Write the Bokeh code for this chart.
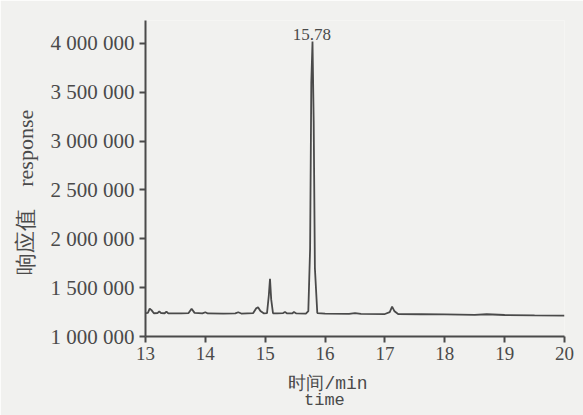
import math
from bokeh.plotting import figure
from bokeh.models import FixedTicker, LinearAxis, Range1d
from bokeh.embed import file_html
from bokeh.resources import INLINE

# retention time (min) and detector response
time = [13.00, 13.04, 13.07, 13.10, 13.14, 13.20, 13.23, 13.26, 13.32, 13.35, 13.38,
        13.60, 13.72, 13.77, 13.82, 13.95, 14.00, 14.04, 14.30, 14.50, 14.55, 14.60,
        14.80, 14.85, 14.88, 14.92, 14.98, 15.03, 15.06, 15.08, 15.10, 15.13, 15.20,
        15.30, 15.33, 15.36, 15.45, 15.48, 15.52, 15.68, 15.72, 15.75, 15.77, 15.79,
        15.81, 15.83, 15.87, 16.00, 16.40, 16.50, 16.60, 17.00, 17.08, 17.12, 17.16,
        17.22, 17.60, 18.00, 18.50, 18.70, 19.00, 19.50, 20.00]
response = [1240000, 1242000, 1285000, 1270000, 1238000, 1240000, 1258000, 1240000,
            1238000, 1255000, 1237000, 1236000, 1240000, 1285000, 1242000, 1236000,
            1248000, 1236000, 1235000, 1236000, 1248000, 1235000, 1240000, 1290000,
            1300000, 1262000, 1236000, 1240000, 1420000, 1590000, 1380000, 1238000,
            1236000, 1240000, 1252000, 1238000, 1236000, 1250000, 1236000, 1235000,
            1260000, 1900000, 3600000, 4020000, 3200000, 1700000, 1240000, 1234000,
            1232000, 1240000, 1231000, 1230000, 1250000, 1305000, 1258000, 1230000,
            1228000, 1226000, 1222000, 1228000, 1220000, 1216000, 1214000]

x_ticks = [13, 14, 15, 16, 17, 18, 19, 20]
y_ticks = [1000000, 1500000, 2000000, 2500000, 3000000, 3500000, 4000000]
y_tick_labels = ["1 000 000", "1 500 000", "2 000 000", "2 500 000",
                 "3 000 000", "3 500 000", "4 000 000"]
peak_time = 15.78
peak_label = "15.78"

ink = "#4a4a4a"
bg = "#f1f1ef"
pad = "\u00a0"

p = figure(width=583, height=415, output_backend="svg", toolbar_location=None,
           x_range=Range1d(13, 20), y_range=Range1d(1000000, 4235000),
           min_border_left=145, min_border_right=19, min_border_top=20,
           min_border_bottom=79)
p.frame_width = 419
p.frame_height = 316
p.background_fill_color = bg
p.border_fill_color = bg
p.outline_line_color = None
p.grid.visible = False

p.line(time, response, line_color=ink, line_width=1.8)

p.text(x=[peak_time], y=[max(response)], text=[peak_label],
       text_align="center", text_baseline="bottom", text_color=ink,
       text_font_size="17px", text_font={"value": "Liberation Serif"},
       y_offset=-2)

for ax in (p.xaxis[0], p.yaxis[0]):
    ax.axis_line_color = ink
    ax.axis_line_width = 2
    ax.major_tick_line_color = ink
    ax.major_tick_line_width = 2
    ax.major_tick_out = 6
    ax.major_tick_in = 0
    ax.minor_tick_line_color = None
    ax.major_label_text_color = ink
    ax.major_label_text_font = "Liberation Serif"

p.xaxis.ticker = FixedTicker(ticks=x_ticks)
p.xaxis.major_label_text_font_size = "19px"
p.xaxis.major_label_standoff = 4
p.xaxis.axis_label = "时间/min" + pad * 5
p.xaxis.axis_label_text_font = "Liberation Mono"
p.xaxis.axis_label_text_font_style = "normal"
p.xaxis.axis_label_text_font_size = "18px"
p.xaxis.axis_label_text_color = ink
p.xaxis.axis_label_standoff = 11

# second caption line below the x axis
time_axis = LinearAxis(axis_label="time" + pad * 6, axis_line_color=None,
                       major_tick_line_color=None, minor_tick_line_color=None,
                       major_label_text_font_size="0px",
                       axis_label_text_font="Liberation Mono",
                       axis_label_text_font_style="normal",
                       axis_label_text_font_size="17px",
                       axis_label_text_color=ink, axis_label_standoff=-6)
time_axis.ticker = FixedTicker(ticks=[])
p.add_layout(time_axis, "below")

p.yaxis.ticker = FixedTicker(ticks=y_ticks)
p.yaxis.major_label_overrides = {t: s for t, s in zip(y_ticks, y_tick_labels)}
p.yaxis.major_label_text_font_size = "21px"
p.yaxis.major_label_standoff = 5
p.yaxis.axis_label = "响应值" + pad * 4 + "response" + pad * 5
p.yaxis.axis_label_text_font = "Liberation Serif"
p.yaxis.axis_label_text_font_style = "normal"
p.yaxis.axis_label_text_font_size = "22px"
p.yaxis.axis_label_text_color = ink
p.yaxis.axis_label_standoff = 10

open("out.html", "w").write(file_html(p, INLINE))
